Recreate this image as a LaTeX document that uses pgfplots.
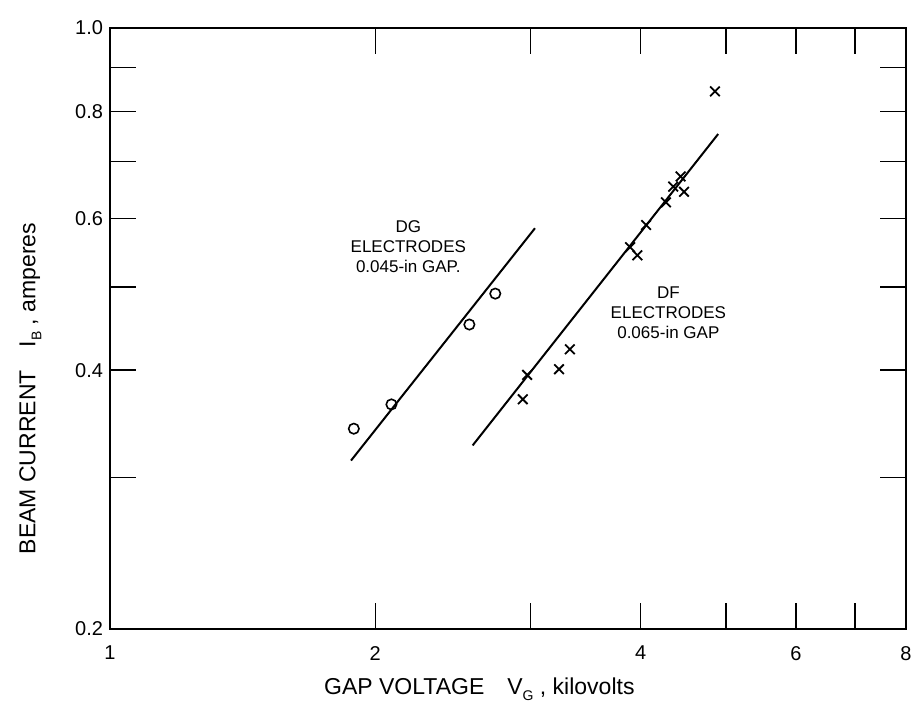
\documentclass[border=0pt]{standalone}
\usepackage{pgfplots}
\pgfplotsset{compat=1.18}
\usepackage{fontspec}
\setmainfont{Liberation Sans}
\begin{document}
\begin{tikzpicture}
\path[use as bounding box] (-55pt,-40pt) rectangle (403pt,314.5pt);
\begin{axis}[
  at={(0,0)}, anchor=south west,
  scale only axis, width=398pt, height=300.5pt,
  xmode=log, ymode=log,
  xmin=1, xmax=8, ymin=0.2, ymax=1.0,
  xtick={1,2,3,4,5,6,7,8},
  xticklabels={1,2,,4,,6,,8},
  ytick={0.2,0.3,0.4,0.5,0.6,0.7,0.8,0.9,1.0},
  yticklabels={0.2,,0.4,,0.6,,0.8,,1.0},
  minor tick num=0,
  log ticks with fixed point,
  tick align=inside,
  major tick length=13pt,
  tick style={black, line width=0.7pt},
  axis line style={line width=1.1pt},
  ticklabel style={font=\fontsize{10}{12}\selectfont},
  xticklabel style={yshift=-5pt},
  xlabel={GAP VOLTAGE\quad V\raisebox{-0.5ex}{\scriptsize G}\ , kilovolts},
  ylabel={BEAM CURRENT\quad I\raisebox{-0.5ex}{\scriptsize B}\ , amperes},
  label style={font=\fontsize{11.5}{13}\selectfont},
  xlabel style={at={(axis description cs:0.464,-0.1)}, anchor=center},
  ylabel style={at={(axis description cs:-0.1,0.4)}, anchor=center, rotate=0},
  clip=false,
]
% DG fitted line
\addplot[black, line width=1pt, no marks] coordinates {(1.877,0.314) (3.035,0.585)};
% DF fitted line
\addplot[black, line width=1pt, no marks] coordinates {(2.579,0.327) (4.898,0.753)};
% DG data (circles)
\addplot[only marks, mark=o, mark size=2.6pt, black, line width=0.8pt] coordinates {
  (1.891,0.342) (2.086,0.365) (2.557,0.452) (2.736,0.491)
};
% DF data (crosses)
\addplot[only marks, mark=x, mark size=3.4pt, black, line width=0.9pt] coordinates {
  (2.940,0.370) (2.974,0.395) (3.232,0.401) (3.325,0.423)
  (3.892,0.556) (3.966,0.544) (4.057,0.590) (4.273,0.627)
  (4.355,0.654) (4.440,0.672) (4.480,0.645) (4.857,0.844)
};
\node[align=center, font=\fontsize{8.5}{10}\selectfont] at (axis cs:2.18,0.557) {DG\\ELECTRODES\\0.045-in GAP.};
\node[align=center, font=\fontsize{8.5}{10}\selectfont] at (axis cs:4.30,0.467) {DF\\ELECTRODES\\0.065-in GAP};
\end{axis}
\end{tikzpicture}
\end{document}
